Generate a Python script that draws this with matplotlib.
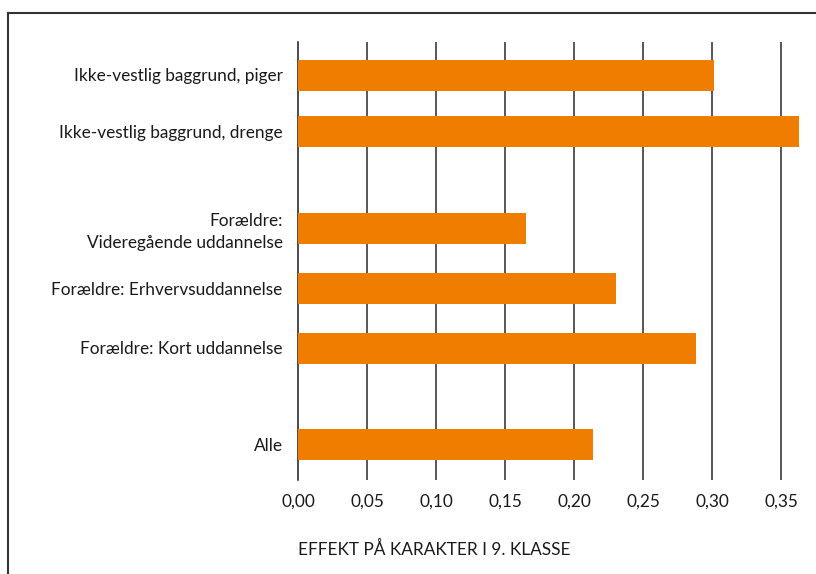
import matplotlib
matplotlib.use("Agg")
import matplotlib.pyplot as plt
from matplotlib.lines import Line2D

plt.rcParams["font.family"] = ["Lato", "DejaVu Sans"]

categories = [
    "Ikke-vestlig baggrund, piger",
    "Ikke-vestlig baggrund, drenge",
    "Forældre:\nVideregående uddannelse",
    "Forældre: Erhvervsuddannelse",
    "Forældre: Kort uddannelse",
    "Alle",
]
effects = [0.301, 0.363, 0.165, 0.230, 0.288, 0.214]
xticks = [0.00, 0.05, 0.10, 0.15, 0.20, 0.25, 0.30, 0.35]
xlabel = "EFFEKT PÅ KARAKTER I 9. KLASSE"

# vertical slot of each bar (pixel-ish units from top, uneven gaps between groups)
ypos = [75, 131.5, 228, 288.5, 348, 444.5]

W, H = 816, 574
fig = plt.figure(figsize=(W / 100, H / 100), dpi=100)
ax = fig.add_axes([298 / W, 1 - 480 / H, (802 - 298) / W, (480 - 42) / H])

ORANGE = "#EF7D00"
FS = 12.4
ax.barh(ypos, effects, height=31, color=ORANGE, zorder=3)

ax.set_ylim(480, 42)
ax.set_xlim(0, 0.365)

for t in xticks[1:]:
    ax.axvline(t, color="#2a2a2a", linewidth=1.1, zorder=1)

ax.set_yticks(ypos)
ax.set_yticklabels(categories, fontsize=FS, color="#1a1a1a", linespacing=1.45)
ax.tick_params(axis="y", length=0, pad=11)
ax.set_xticks(xticks)
ax.set_xticklabels([f"{t:.2f}".replace(".", ",") for t in xticks],
                   fontsize=FS, color="#1a1a1a")
ax.tick_params(axis="x", length=0, pad=10)

for s in ["top", "right", "bottom"]:
    ax.spines[s].set_visible(False)
ax.spines["left"].set_color("#1a1a1a")
ax.spines["left"].set_linewidth(1.1)

fig.text(298 / W, 1 - 549 / H, xlabel, fontsize=FS, color="#1a1a1a",
         ha="left", va="center")

# outer frame (left and top edges)
fig.add_artist(Line2D([8 / W, 8 / W], [0, 1 - 13 / H], transform=fig.transFigure,
                      color="#333333", linewidth=1.5))
fig.add_artist(Line2D([8 / W, 1], [1 - 13 / H, 1 - 13 / H], transform=fig.transFigure,
                      color="#333333", linewidth=1.5))

fig.savefig("out.png", dpi=100)
